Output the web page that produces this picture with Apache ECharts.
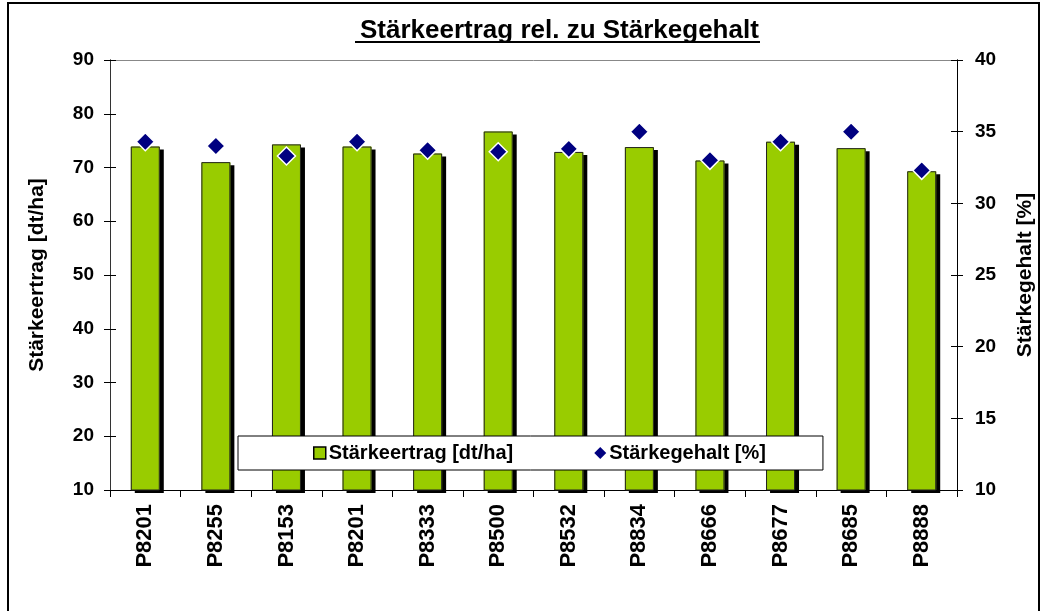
<!DOCTYPE html>
<html>
<head>
<meta charset="utf-8">
<script src="https://cdn.jsdelivr.net/npm/echarts@6/dist/echarts.min.js"></script>
<style>
  html, body { margin: 0; padding: 0; background: #fff; }
  #chart { width: 1044px; height: 611px; }
</style>
</head>
<body>
<div id="chart"></div>
<script>
    var categories = ['P8201', 'P8255', 'P8153', 'P8201', 'P8333', 'P8500', 'P8532', 'P8834', 'P8666', 'P8677', 'P8685', 'P8888'];
    var ertrag = [73.9, 71.0, 74.3, 73.9, 72.6, 76.7, 72.9, 73.8, 71.3, 74.8, 73.6, 69.3];
    var gehalt = [34.3, 34.0, 33.3, 34.3, 33.7, 33.6, 33.8, 35.0, 33.0, 34.3, 35.0, 32.3];

    var font = 'Liberation Sans, Arial, sans-serif';
    var diamond = 'path://M0,-1L1,0L0,1L-1,0Z';

    var dom = document.getElementById('chart');
    var myChart = echarts.init(dom);

    function yAx(pos, min, max, interval, inside, withLabels, name) {
        return {
            type: 'value',
            position: pos,
            min: min,
            max: max,
            interval: interval,
            name: withLabels ? name : '',
            nameLocation: 'middle',
            nameGap: pos === 'left' ? 62 : 58,
            nameTextStyle: {color: '#000', fontFamily: font, fontWeight: 'bold', fontSize: 21},
            axisLine: {show: true, lineStyle: {color: pos === 'left' ? '#333' : '#000', width: 1}},
            axisTick: {show: true, inside: inside, length: 6, lineStyle: {color: '#000'}},
            axisLabel: {
                show: withLabels,
                margin: pos === 'left' ? 16 : 18,
                color: '#000',
                fontFamily: font,
                fontWeight: 'bold',
                fontSize: 19
            },
            splitLine: {show: false}
        };
    }

    var option = {
        animation: false,
        backgroundColor: '#fff',
        title: {
            text: 'Stärkeertrag rel. zu Stärkegehalt',
            left: 355,
            top: 13,
            textStyle: {color: '#000', fontFamily: font, fontWeight: 'bold', fontSize: 26}
        },
        grid: {left: 110, right: 84, top: 60, bottom: 121, containLabel: false},
        legend: {
            left: 238,
            top: 436,
            orient: 'horizontal',
            backgroundColor: '#fff',
            borderColor: '#000',
            borderWidth: 1,
            padding: [7, 57, 7, 75],
            itemGap: 81,
            itemWidth: 12,
            itemHeight: 12,
            textStyle: {color: '#000', fontFamily: font, fontWeight: 'bold', fontSize: 20, padding: [0, 0, 0, -2]},
            data: [
                {name: 'Stärkeertrag [dt/ha]', icon: 'rect', itemStyle: {color: '#99cc00', borderColor: '#000', borderWidth: 1.5}},
                {name: 'Stärkegehalt [%]', icon: diamond, itemStyle: {color: '#000080', borderWidth: 0}}
            ]
        },
        xAxis: [{
            type: 'category',
            data: categories,
            position: 'bottom',
            axisLine: {lineStyle: {color: '#000', width: 1}},
            axisTick: {show: true, inside: false, length: 7, lineStyle: {color: '#000'}},
            axisLabel: {
                rotate: 90,
                margin: 14,
                color: '#000',
                fontFamily: font,
                fontWeight: 'bold',
                fontSize: 22
            }
        }, {
            type: 'category',
            data: categories,
            position: 'top',
            axisLine: {show: true, lineStyle: {color: '#888', width: 1}},
            axisTick: {show: false},
            axisLabel: {show: false}
        }],
        yAxis: [
            yAx('left', 10, 90, 10, false, true, 'Stärkeertrag [dt/ha]'),
            yAx('right', 10, 40, 5, false, true, 'Stärkegehalt [%]'),
            yAx('left', 10, 90, 10, true, false, ''),
            yAx('right', 10, 40, 5, true, false, '')
        ],
        series: [{
            name: 'Stärkeertrag [dt/ha]',
            type: 'bar',
            xAxisIndex: 0,
            yAxisIndex: 0,
            barWidth: 29,
            barGap: '-100%',
            data: ertrag,
            z: 2,
            itemStyle: {
                color: '#99cc00',
                borderWidth: 0,
                shadowColor: '#000',
                shadowBlur: 0,
                shadowOffsetX: 4,
                shadowOffsetY: 3
            }
        }, {
            name: 'outline',
            type: 'bar',
            xAxisIndex: 0,
            yAxisIndex: 0,
            barWidth: 29,
            barGap: '-100%',
            data: ertrag,
            z: 3,
            itemStyle: {color: 'rgba(0,0,0,0)', borderColor: '#222', borderWidth: 1}
        }, {
            name: 'Stärkegehalt [%]',
            type: 'scatter',
            xAxisIndex: 0,
            yAxisIndex: 1,
            symbol: diamond,
            symbolSize: 18,
            data: gehalt,
            z: 4,
            itemStyle: {color: '#000080', borderColor: '#fff', borderWidth: 1.5, opacity: 1}
        }],
        graphic: [{
            type: 'line',
            shape: {x1: 355, y1: 42, x2: 760, y2: 42},
            style: {stroke: '#000', lineWidth: 2}
        }, {
            type: 'rect',
            shape: {x: 8, y: 3, width: 1031, height: 700},
            style: {fill: null, stroke: '#000', lineWidth: 2},
            silent: true
        }]
    };

    myChart.setOption(option);
</script>
</body>
</html>
